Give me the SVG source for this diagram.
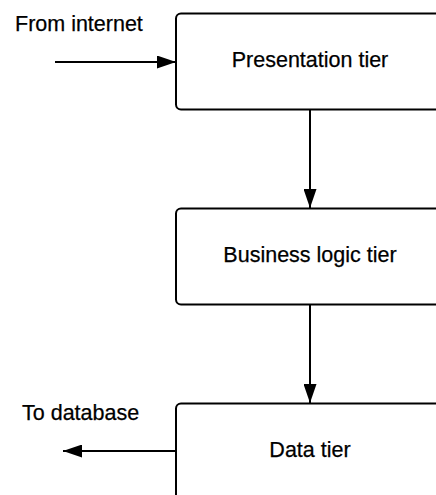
<svg xmlns="http://www.w3.org/2000/svg" width="436" height="495" viewBox="0 0 436 495">
<style>
.box{fill:#fff;stroke:#000;stroke-width:2}
.lbl{font-family:"Liberation Sans",Arial,sans-serif;font-size:21.5px;fill:#000;stroke:#000;stroke-width:0.25}
.c{text-anchor:middle}
.edge{stroke:#000;stroke-width:2;fill:none}
</style>
<defs>
<marker id="ah" viewBox="0 0 19 13" refX="19" refY="6.5" markerWidth="19" markerHeight="13" markerUnits="userSpaceOnUse" orient="auto">
<path d="M0,0 L19,6.5 L0,13 Z" fill="#000"/>
</marker>
</defs>
<rect width="436" height="495" fill="#fff"/>
<g id="connectors">
<line class="edge" x1="55" y1="62" x2="176" y2="62" marker-end="url(#ah)"/>
<line class="edge" x1="310" y1="110" x2="310" y2="208" marker-end="url(#ah)"/>
<line class="edge" x1="310" y1="305" x2="310" y2="403" marker-end="url(#ah)"/>
<line class="edge" x1="176" y1="451" x2="63" y2="451" marker-end="url(#ah)"/>
</g>
<g id="presentation">
<rect class="box" x="176" y="13.5" width="270" height="96" rx="5"/>
<text class="lbl c" x="310" y="67">Presentation tier</text>
</g>
<g id="business">
<rect class="box" x="176" y="208.5" width="270" height="96" rx="5"/>
<text class="lbl c" x="310" y="262">Business logic tier</text>
</g>
<g id="data">
<rect class="box" x="176" y="403.5" width="270" height="96" rx="5"/>
<text class="lbl c" x="310" y="457">Data tier</text>
</g>
<g id="from-internet">
<text class="lbl" x="15" y="31">From internet</text>
</g>
<g id="to-database">
<text class="lbl" x="22" y="420">To database</text>
</g>
</svg>
